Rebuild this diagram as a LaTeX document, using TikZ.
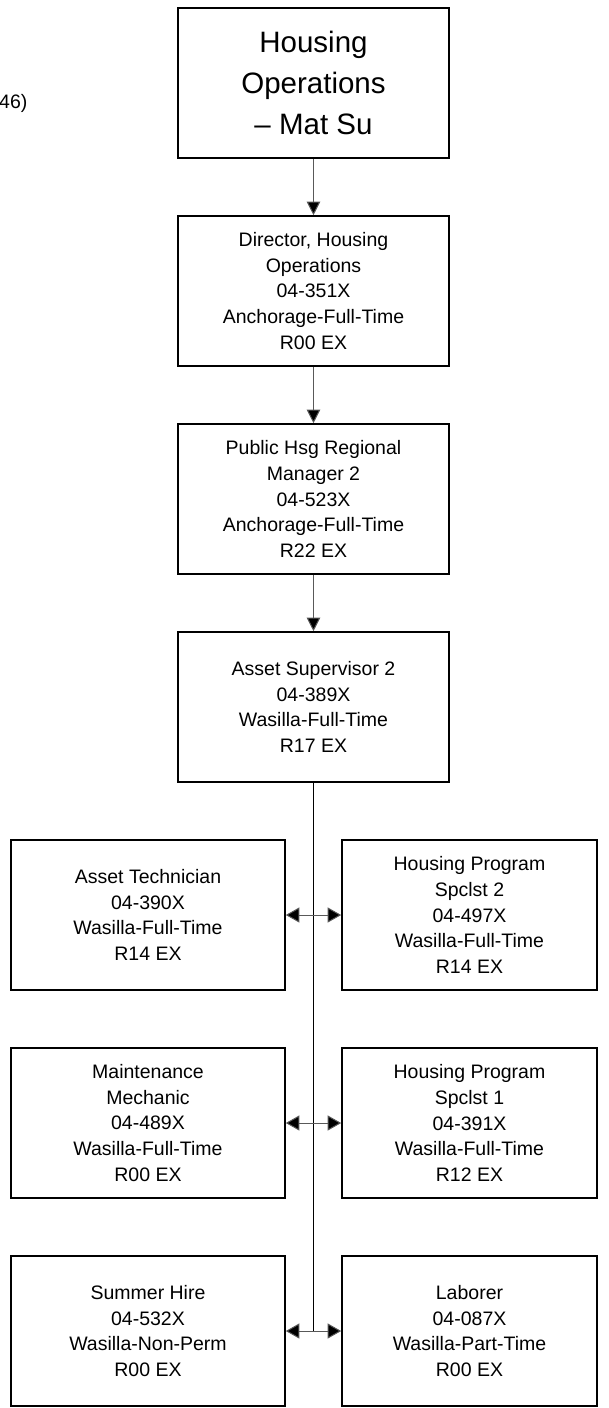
\documentclass[tikz,border=0pt]{standalone}
\usepackage{fontspec}
\setmainfont{Liberation Sans}
\usetikzlibrary{arrows.meta}
\begin{document}
\begin{tikzpicture}[x=1pt,y=-1pt,
  box/.style={draw=black,line width=1.6pt,inner sep=0pt,minimum height=150pt,align=center,
    font=\fontsize{19.5}{25.7}\selectfont},
  midbox/.style={box,minimum width=271pt},
  leftbox/.style={box,minimum width=274pt},
  rightbox/.style={box,minimum width=255pt},
  topbox/.style={box,minimum width=271pt,font=\fontsize{29.5}{41}\selectfont},
  conn/.style={draw=black!65,line width=1pt,-{Triangle[length=13.5pt,width=13.5pt,fill=black]}},
  trunk/.style={draw=black,line width=1.6pt},
  harrow/.style={draw=black!65,line width=1pt,-{Triangle[length=13.5pt,width=15pt,fill=black]}},
  note/.style={inner sep=0pt,font=\fontsize{19.5}{25.7}\selectfont}
]
\useasboundingbox (0,0) rectangle (608,1408);
\node[note,anchor=base west] (n46) at (-1,108) {46)};
\node[topbox] (top) at (313.5,83) {Housing\\Operations\\– Mat Su};
\node[midbox] (dir) at (313.5,291) {Director, Housing\\Operations\\04-351X\\Anchorage-Full-Time\\R00 EX};
\node[midbox] (pub) at (313.5,499) {Public Hsg Regional\\Manager 2\\04-523X\\Anchorage-Full-Time\\R22 EX};
\node[midbox] (asup) at (313.5,707) {Asset Supervisor 2\\04-389X\\Wasilla-Full-Time\\R17 EX};
\node[leftbox] (l1) at (148,915) {Asset Technician\\04-390X\\Wasilla-Full-Time\\R14 EX};
\node[rightbox] (r1) at (469.5,915) {Housing Program\\Spclst 2\\04-497X\\Wasilla-Full-Time\\R14 EX};
\node[leftbox] (l2) at (148,1123) {Maintenance\\Mechanic\\04-489X\\Wasilla-Full-Time\\R00 EX};
\node[rightbox] (r2) at (469.5,1123) {Housing Program\\Spclst 1\\04-391X\\Wasilla-Full-Time\\R12 EX};
\node[leftbox] (l3) at (148,1331) {Summer Hire\\04-532X\\Wasilla-Non-Perm\\R00 EX};
\node[rightbox] (r3) at (469.5,1331) {Laborer\\04-087X\\Wasilla-Part-Time\\R00 EX};
\coordinate (j1) at (313.5,915);
\coordinate (j2) at (313.5,1123);
\coordinate (j3) at (313.5,1331);
\draw[conn] (top) -- (dir);
\draw[conn] (dir) -- (pub);
\draw[conn] (pub) -- (asup);
\draw[trunk] (asup.south) -- (j3);
\foreach \j/\l/\r in {j1/l1/r1,j2/l2/r2,j3/l3/r3}{
  \draw[harrow] (\j) -- (\l.east);
  \draw[harrow] (\j) -- (\r.west);
}
\end{tikzpicture}
\end{document}
